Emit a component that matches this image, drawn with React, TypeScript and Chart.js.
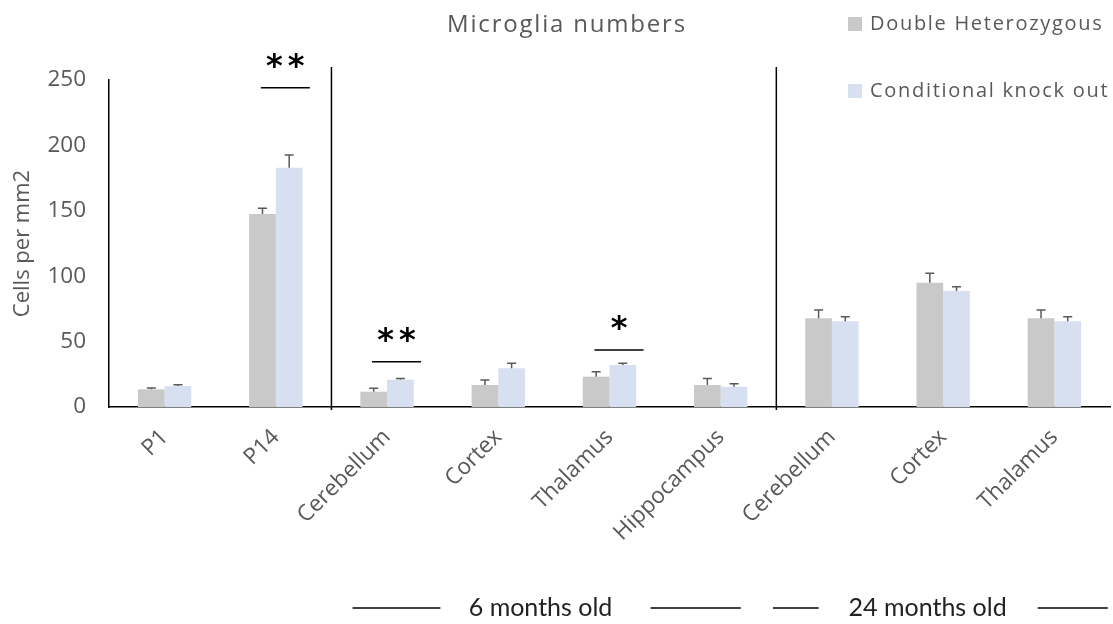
import React, { useEffect, useRef } from "react";
import { Chart, registerables } from "chart.js";

Chart.register(...registerables);

const categories = ["P1", "P14", "Cerebellum", "Cortex", "Thalamus", "Hippocampus", "Cerebellum", "Cortex", "Thalamus"];
const seriesNames = ["Double Heterozygous", "Conditional knock out"];
const dhValues = [13.5, 147.5, 11.7, 16.8, 23.2, 16.8, 67.8, 95, 67.8];
const dhErrors = [1, 4.5, 2.6, 3.8, 3.8, 4.9, 6.4, 7.2, 6.4];
const ckoValues = [16, 183, 20.9, 29.6, 32.1, 15.5, 65.5, 88.7, 65.5];
const ckoErrors = [1, 9.6, 0.8, 3.8, 1.3, 2.3, 3.5, 3.3, 3.5];
const yTicks = [0, 50, 100, 150, 200, 250];

const sigCategories = [1, 2, 4];
const sigLabels = ["**", "**", "*"];
const sigLevels = [244, 34.6, 43.6];

const groupLabels = ["6 months old", "24 months old"];
const separators = [1.5, 5.5];

const TITLE = "Microglia numbers";
const Y_TITLE = "Cells per mm2";
const FONT = "'Open Sans', sans-serif";
const CAPTION_FONT = "Lato, sans-serif";
const GREY_TEXT = "#595959";
const COLORS = ["#c9c9c9", "#d7e0f1"];

// layout of the group caption rows (in category units)
const groupLayout = [
  { line1: [1.69, 2.48], center: 3.38, line2: [4.37, 5.18] },
  { line1: [5.47, 5.88], center: 6.86, line2: [7.85, 8.48] },
];

const annotations = {
  id: "annotations",
  afterDatasetsDraw(chart: any) {
    const ctx = chart.ctx;
    const xs = chart.scales.x;
    const ys = chart.scales.y;
    const errs = [dhErrors, ckoErrors];
    const vals = [dhValues, ckoValues];
    ctx.save();
    // error bars
    ctx.strokeStyle = "#595959";
    ctx.lineWidth = 1.5;
    for (let d = 0; d < 2; d++) {
      const meta = chart.getDatasetMeta(d);
      meta.data.forEach((bar: any, i: number) => {
        const y0 = ys.getPixelForValue(vals[d][i]);
        const y1 = ys.getPixelForValue(vals[d][i] + errs[d][i]);
        ctx.beginPath();
        ctx.moveTo(bar.x, y0);
        ctx.lineTo(bar.x, y1);
        ctx.moveTo(bar.x - 4.5, y1);
        ctx.lineTo(bar.x + 4.5, y1);
        ctx.stroke();
      });
    }
    // separators
    ctx.strokeStyle = "#000";
    ctx.lineWidth = 1.5;
    separators.forEach((s) => {
      const x = xs.getPixelForValue(s);
      ctx.beginPath();
      ctx.moveTo(x, ys.getPixelForValue(260));
      ctx.lineTo(x, chart.chartArea.bottom + 3);
      ctx.stroke();
    });
    // significance
    sigCategories.forEach((c, k) => {
      const xa = xs.getPixelForValue(c - 0.135);
      const xb = xs.getPixelForValue(c + 0.306);
      const y = ys.getPixelForValue(sigLevels[k]);
      ctx.strokeStyle = "#000";
      ctx.lineWidth = 1.5;
      ctx.beginPath();
      ctx.moveTo(xa, y);
      ctx.lineTo(xb, y);
      ctx.stroke();
      ctx.fillStyle = "#000";
      ctx.font = "bold 32px 'DejaVu Sans'";
      ctx.textAlign = "center";
      ctx.textBaseline = "alphabetic";
      (ctx as any).letterSpacing = "5px";
      ctx.fillText(sigLabels[k], (xa + xb) / 2 + 2.5, y - 12);
      (ctx as any).letterSpacing = "0px";
    });
    // title
    ctx.fillStyle = GREY_TEXT;
    ctx.font = `24px ${FONT}`;
    ctx.textAlign = "center";
    ctx.textBaseline = "middle";
    (ctx as any).letterSpacing = "1.8px";
    ctx.fillText(TITLE, 567, 25);
    // legend
    ctx.font = `20px ${FONT}`;
    ctx.textAlign = "left";
    (ctx as any).letterSpacing = "1.7px";
    seriesNames.forEach((n, i) => {
      const yc = 24 + i * 67;
      ctx.fillStyle = COLORS[i];
      ctx.fillRect(848, yc - 7, 14, 14);
      ctx.fillStyle = GREY_TEXT;
      ctx.fillText(n, 870, yc);
    });
    // group captions
    ctx.fillStyle = "#222";
    ctx.font = `25px ${CAPTION_FONT}`;
    ctx.textAlign = "center";
    (ctx as any).letterSpacing = "0px";
    ctx.strokeStyle = "#000";
    ctx.lineWidth = 1.5;
    const gy = 608;
    groupLabels.forEach((g, i) => {
      const L = groupLayout[i];
      ctx.fillText(g, xs.getPixelForValue(L.center), gy);
      [L.line1, L.line2].forEach((ln) => {
        ctx.beginPath();
        ctx.moveTo(xs.getPixelForValue(ln[0]), gy);
        ctx.lineTo(xs.getPixelForValue(ln[1]), gy);
        ctx.stroke();
      });
    });
    ctx.restore();
  },
};

export default function App() {
  const ref = useRef<HTMLCanvasElement>(null);
  useEffect(() => {
    document.body.style.margin = "0";
    const chart = new Chart(ref.current!, {
      type: "bar",
      data: {
        labels: categories,
        datasets: [
          { label: seriesNames[0], data: dhValues, backgroundColor: COLORS[0] },
          { label: seriesNames[1], data: ckoValues, backgroundColor: COLORS[1] },
        ],
      },
      options: {
        responsive: false,
        animation: false,
        devicePixelRatio: 1,
        layout: { padding: { top: 80, left: 10, right: 3, bottom: 0 } },
        datasets: { bar: { categoryPercentage: 0.48, barPercentage: 1 } },
        plugins: { legend: { display: false }, title: { display: false }, tooltip: { enabled: false } },
        scales: {
          x: {
            grid: { display: false, drawTicks: false },
            border: { display: true, color: "#000", width: 1.5 },
            ticks: {
              color: GREY_TEXT,
              font: { family: FONT, size: 22.5 },
              minRotation: 45,
              maxRotation: 45,
              padding: 17,
            },
            afterFit: (s: any) => {
              s.height = 217;
            },
          },
          y: {
            min: 0,
            max: 250,
            afterBuildTicks: (s: any) => {
              s.ticks = yTicks.map((v) => ({ value: v }));
            },
            grid: { display: false, drawTicks: false },
            border: { display: true, color: "#000", width: 1.5 },
            ticks: { color: GREY_TEXT, font: { family: FONT, size: 22.5 }, padding: 23 },
            title: { display: true, text: Y_TITLE, color: GREY_TEXT, font: { family: FONT, size: 22 }, padding: 0 },
            afterFit: (s: any) => {
              s.width = 99;
            },
          },
        },
      },
      plugins: [annotations],
    });
    return () => chart.destroy();
  }, []);
  return (
    <div style={{ width: 1113, height: 624, background: "#fff" }}>
      <canvas ref={ref} width={1113} height={624} />
    </div>
  );
}
